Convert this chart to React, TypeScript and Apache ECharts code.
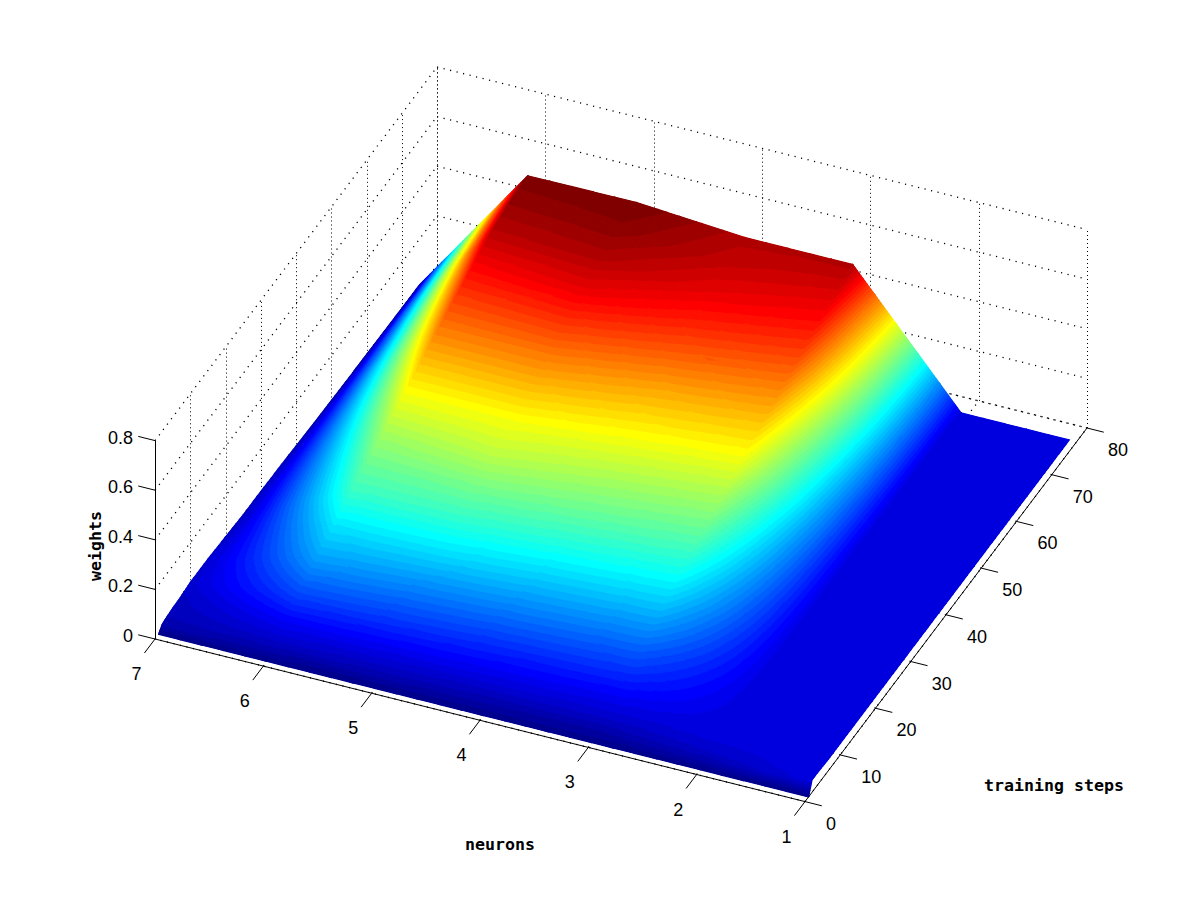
import React, { useEffect, useRef } from "react";
import * as echarts from "echarts";

// ---------- data ----------
const neurons = [1, 2, 3, 4, 5, 6, 7];
const steps = [1, 2, 3, 5, 7, 10, 15, 20, 25, 30, 35, 40, 45, 50, 55, 60, 65, 70, 75];
const weightsN1 = [0, 0.05, 0.05, 0.048, 0.046, 0.046, 0.046, 0.046, 0.046, 0.046, 0.046, 0.046, 0.046, 0.046, 0.046, 0.046, 0.046, 0.046, 0.046];
const weightsN2 = [0, 0.02, 0.035, 0.045, 0.046, 0.047, 0.048, 0.048, 0.048, 0.048, 0.048, 0.047, 0.046, 0.046, 0.046, 0.046, 0.046, 0.046, 0.046];
const weightsN3 = [0, 0.012, 0.02, 0.04, 0.055, 0.08, 0.12, 0.165, 0.207, 0.245, 0.28, 0.315, 0.353, 0.385, 0.42, 0.455, 0.485, 0.51, 0.535];
const weightsN4 = [0, 0.012, 0.022, 0.042, 0.06, 0.085, 0.13, 0.175, 0.22, 0.26, 0.295, 0.33, 0.365, 0.4, 0.44, 0.475, 0.505, 0.525, 0.535];
const weightsN5 = [0, 0.014, 0.025, 0.045, 0.065, 0.095, 0.14, 0.19, 0.235, 0.275, 0.315, 0.345, 0.385, 0.425, 0.465, 0.505, 0.535, 0.555, 0.567];
const weightsN6 = [0, 0.015, 0.03, 0.05, 0.07, 0.105, 0.155, 0.195, 0.24, 0.27, 0.305, 0.345, 0.385, 0.425, 0.46, 0.495, 0.53, 0.55, 0.565];
const weightsN7 = [0, 0.02, 0.025, 0.03, 0.032, 0.04, 0.04, 0.035, 0.03, 0.03, 0.028, 0.025, 0.022, 0.02, 0.018, 0.017, 0.016, 0.015, 0.015];
const surface = [weightsN1, weightsN2, weightsN3, weightsN4, weightsN5, weightsN6, weightsN7];

const neuronTicks = [1, 2, 3, 4, 5, 6, 7];
const stepTicks = [0, 10, 20, 30, 40, 50, 60, 70, 80];
const weightTicks = [0, 0.2, 0.4, 0.6, 0.8];
const weightTickLabels = ["0", "0.2", "0.4", "0.6", "0.8"];

const colorMax = 0.567;
const bands = 64;
const subdivide = 5;

// ---------- view: orthographic projection of (neuron, step, weight) ----------
function project(n: number, s: number, z: number): number[] {
  return [805 - (n - 1) * 108.33 + s * 3.525, 801.6 - (n - 1) * 27.1 - s * 4.67 - z * 248];
}

function jet(k: number): string {
  const t = (k + 1) / bands;
  const f = (v: number) => Math.round(255 * Math.max(0, Math.min(1, v)));
  const r = 1.5 - Math.abs(4 * t - 3);
  const g = 1.5 - Math.abs(4 * t - 2);
  const b = 1.5 - Math.abs(4 * t - 1);
  return `rgb(${f(r)},${f(g)},${f(b)})`;
}

type V = number[];
function clip(poly: V[], level: number, keepAbove: boolean): V[] {
  const out: V[] = [];
  for (let i = 0; i < poly.length; i++) {
    const a = poly[i];
    const b = poly[(i + 1) % poly.length];
    const ina = keepAbove ? a[2] >= level : a[2] <= level;
    const inb = keepAbove ? b[2] >= level : b[2] <= level;
    if (ina) out.push(a);
    if (ina !== inb) {
      const u = (level - a[2]) / (b[2] - a[2]);
      out.push([a[0] + u * (b[0] - a[0]), a[1] + u * (b[1] - a[1]), level]);
    }
  }
  return out;
}

// one item per mesh cell, back to front: neuron pair, step pair, four corner weights
function buildCells(): number[][] {
  const cells: number[][] = [];
  for (let j = steps.length - 2; j >= 0; j--) {
    for (let i = neurons.length - 2; i >= 0; i--) {
      cells.push([
        neurons[i],
        steps[j],
        neurons[i + 1],
        steps[j + 1],
        surface[i][j],
        surface[i + 1][j],
        surface[i][j + 1],
        surface[i + 1][j + 1],
      ]);
    }
  }
  return cells;
}

type Seg = [number, number, number, number, number, number, number];
// kind: 0 solid, 1 dotted vertical, 2 dotted slanted
function buildSegments(): Seg[] {
  const segs: Seg[] = [];
  const nMin = neuronTicks[0];
  const nMax = neuronTicks[neuronTicks.length - 1];
  const sMin = stepTicks[0];
  const sMax = stepTicks[stepTicks.length - 1];
  const zMin = weightTicks[0];
  const zMax = weightTicks[weightTicks.length - 1];
  for (const z of weightTicks) {
    segs.push([nMax, sMin, z, nMax, sMax, z, 2]);
    segs.push([nMax, sMax, z, nMin, sMax, z, 2]);
  }
  for (const s of stepTicks) {
    segs.push([nMax, s, zMin, nMax, s, zMax, 1]);
    segs.push([nMin, s, zMin, nMax, s, zMin, 2]);
  }
  for (const n of neuronTicks) {
    segs.push([n, sMax, zMin, n, sMax, zMax, 1]);
    segs.push([n, sMin, zMin, n, sMax, zMin, 2]);
  }
  segs.push([nMax, sMin, zMin, nMax, sMin, zMax, 0]);
  segs.push([nMin, sMin, zMin, nMax, sMin, zMin, 0]);
  segs.push([nMin, sMin, zMin, nMin, sMax, zMin, 0]);
  for (const z of weightTicks) segs.push([nMax, sMin, z, nMax + 0.155, sMin, z, 0]);
  for (const s of stepTicks) segs.push([nMin, s, zMin, nMin - 0.155, s, zMin, 0]);
  for (const n of neuronTicks) segs.push([n, sMin, zMin, n, sMin - 3, zMin, 0]);
  return segs;
}

type Lab = { text: string; x: number; y: number; align: string; bold?: boolean; rot?: number };
function buildLabels(): Lab[] {
  const labs: Lab[] = [];
  neuronTicks.forEach((n) => {
    const p = project(n, 0, 0);
    labs.push({ text: String(n), x: p[0] - 18.5, y: p[1] + 35, align: "center" });
  });
  stepTicks.forEach((s) => {
    const p = project(1, s, 0);
    labs.push({ text: String(s), x: p[0] + (s === 0 ? 26 : 31), y: p[1] + 22, align: "center" });
  });
  weightTicks.forEach((z, i) => {
    const p = project(7, 0, z);
    labs.push({ text: weightTickLabels[i], x: p[0] - 22, y: p[1] - 3, align: "right" });
  });
  labs.push({ text: "neurons", x: 500, y: 844, align: "center", bold: true });
  labs.push({ text: "training steps", x: 1054, y: 785, align: "center", bold: true });
  labs.push({ text: "weights", x: 95, y: 546, align: "center", bold: true, rot: Math.PI / 2 });
  return labs;
}

export default function App() {
  const ref = useRef<HTMLDivElement>(null);
  useEffect(() => {
    document.body.style.margin = "0";
    const chart = echarts.init(ref.current!, undefined, { renderer: "svg", width: 1201, height: 901 });
    const segs = buildSegments();
    const labs = buildLabels();
    chart.setOption({
      animation: false,
      backgroundColor: "#ffffff",
      grid: { left: 0, right: 0, top: 0, bottom: 0 },
      xAxis: { type: "value", min: 0, max: 1201, show: false },
      yAxis: { type: "value", min: 0, max: 901, inverse: true, show: false },
      tooltip: { show: false },
      series: [
        {
          type: "custom",
          silent: true,
          clip: false,
          coordinateSystem: "cartesian2d",
          data: segs,
          z: 1,
          renderItem: (_p: any, api: any) => {
            const a = api.coord(project(api.value(0), api.value(1), api.value(2)));
            const b = api.coord(project(api.value(3), api.value(4), api.value(5)));
            const kind = api.value(6);
            if (Math.abs(a[0] - b[0]) < 0.01) {
              a[0] = Math.round(a[0]) + 0.5;
              b[0] = a[0];
            }
            return {
              type: "line",
              silent: true,
              shape: { x1: a[0], y1: a[1], x2: b[0], y2: b[1] },
              style:
                kind === 0
                  ? { stroke: "#000", lineWidth: 1, fill: "none" }
                  : kind === 1
                  ? { stroke: "#000", lineWidth: 1, fill: "none", lineDash: [1, 3] }
                  : { stroke: "#000", lineWidth: 1.3, fill: "none", lineDash: [1.2, 5.5] },
            };
          },
        },
        {
          type: "custom",
          silent: true,
          clip: false,
          coordinateSystem: "cartesian2d",
          data: buildCells(),
          z: 2,
          progressive: 0,
          renderItem: (_p: any, api: any) => {
            const n0 = api.value(0);
            const s0 = api.value(1);
            const n1 = api.value(2);
            const s1 = api.value(3);
            const z00 = api.value(4);
            const z10 = api.value(5);
            const z01 = api.value(6);
            const z11 = api.value(7);
            const vert = (a: number, b: number): V => {
              const u = a / subdivide;
              const w = b / subdivide;
              return [
                n0 + u * (n1 - n0),
                s0 + w * (s1 - s0),
                z00 * (1 - u) * (1 - w) + z10 * u * (1 - w) + z01 * (1 - u) * w + z11 * u * w,
              ];
            };
            const step = colorMax / bands;
            const children: any[] = [];
            // underlay: the whole cell in its mean colour, so no gap can show through
            const meanBand = Math.min(bands - 1, Math.floor((z00 + z10 + z01 + z11) / 4 / step));
            children.push({
              type: "polygon",
              silent: true,
              shape: {
                points: [
                  [n0, s0, z00],
                  [n1, s0, z10],
                  [n1, s1, z11],
                  [n0, s1, z01],
                ].map((v) => api.coord(project(v[0], v[1], v[2]))),
              },
              style: { fill: jet(meanBand) },
            });
            const push = (poly: V[], k: number) => {
              const pts = poly.map((v) => api.coord(project(v[0], v[1], v[2])));
              const c = jet(k);
              children.push({
                type: "polygon",
                silent: true,
                shape: { points: pts },
                style: { fill: c, stroke: c, lineWidth: 1.1 },
              });
            };
            const drawTri = (tri: V[]) => {
              const zs = tri.map((v) => v[2]);
              const k0 = Math.max(0, Math.floor(Math.min(...zs) / step));
              const k1 = Math.min(bands - 1, Math.floor(Math.max(...zs) / step));
              if (k0 >= k1) {
                push(tri, k0);
                return;
              }
              for (let k = k0; k <= k1; k++) {
                let poly = tri;
                if (k > k0) poly = clip(poly, k * step, true);
                if (k < k1 && poly.length) poly = clip(poly, (k + 1) * step, false);
                if (poly.length >= 3) push(poly, k);
              }
            };
            for (let b = subdivide - 1; b >= 0; b--) {
              for (let a = subdivide - 1; a >= 0; a--) {
                const A = vert(a, b);
                const B = vert(a + 1, b);
                const C = vert(a + 1, b + 1);
                const D = vert(a, b + 1);
                drawTri([A, B, C]);
                drawTri([A, C, D]);
              }
            }
            return { type: "group", silent: true, children };
          },
        },
        {
          type: "custom",
          silent: true,
          clip: false,
          coordinateSystem: "cartesian2d",
          data: labs.map((_, i) => [i]),
          z: 3,
          renderItem: (_p: any, api: any) => {
            const l = labs[api.value(0)];
            const c = api.coord([l.x, l.y]);
            return {
              type: "text",
              silent: true,
              x: c[0],
              y: c[1],
              rotation: l.rot || 0,
              style: {
                text: l.text,
                x: 0,
                y: 0,
                fill: "#000",
                textAlign: l.align,
                textVerticalAlign: "middle",
                fontFamily: l.bold ? "DejaVu Sans Mono" : "Liberation Sans",
                fontWeight: l.bold ? "bold" : "normal",
                fontSize: l.bold ? 16.6 : 18,
              },
            };
          },
        },
      ],
    });
    return () => chart.dispose();
  }, []);
  return <div ref={ref} style={{ width: 1201, height: 901 }} />;
}
